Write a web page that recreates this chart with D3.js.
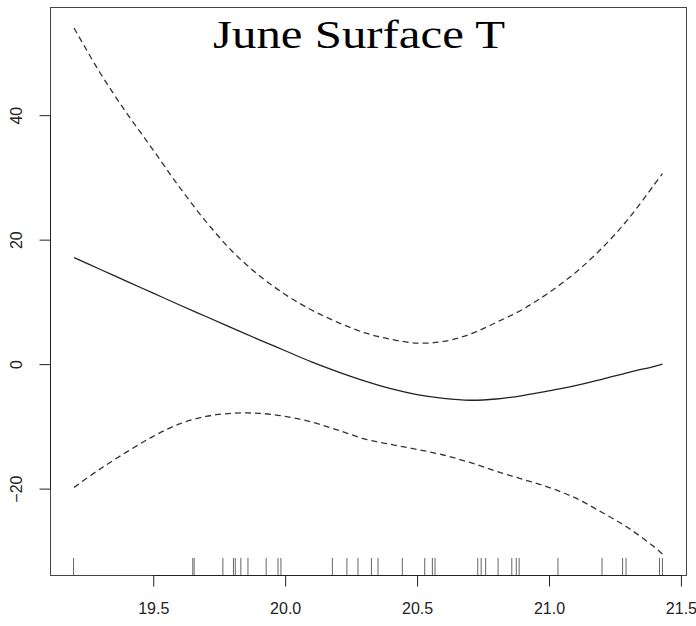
<!DOCTYPE html>
<html>
<head>
<meta charset="utf-8" />
<title>June Surface T</title>
<style>
html, body {
    margin: 0px;
    padding: 0px;
    background: #fff;
}
svg {
    display: block;
}
</style>
</head>
<body>
<svg id="chart" width="696" height="626"></svg>

<script src="https://d3js.org/d3.v7.min.js"></script>
<script>
// smooth term for June surface temperature, with its +/- 2 se band
var temps = [19.2, 19.3, 19.4, 19.5, 19.6, 19.7, 19.8, 19.9, 20.0, 20.1, 20.2, 20.3,
             20.4, 20.5, 20.6, 20.7, 20.8, 20.9, 21.0, 21.1, 21.2, 21.3, 21.4, 21.43]
var fit   = [17.1, 15.2, 13.3, 11.4, 9.5, 7.65, 5.8, 3.95, 2.15, 0.35, -1.25, -2.7,
             -3.95, -4.9, -5.5, -5.8, -5.6, -5.05, -4.3, -3.45, -2.45, -1.35, -0.35, 0.0]
var upper = [54.0, 46.7, 40.3, 34.4, 28.4, 22.9, 18.1, 14.3, 11.2, 8.7, 6.7, 5.05,
             4.0, 3.38, 3.64, 4.8, 6.7, 8.8, 11.5, 14.7, 18.6, 23.3, 28.9, 30.6]
var lower = [-19.8, -16.8, -14.1, -11.6, -9.6, -8.4, -7.9, -7.9, -8.4, -9.3, -10.6, -12.0,
             -12.9, -13.7, -14.6, -15.8, -17.2, -18.5, -19.8, -21.5, -23.8, -26.3, -29.4, -30.5]

// observed temperatures (rug)
var rugTemps = [19.198, 19.650, 19.655, 19.764, 19.804, 19.811, 19.832, 19.859, 19.928,
                19.973, 19.984, 20.179, 20.234, 20.276, 20.327, 20.352, 20.444, 20.529,
                20.558, 20.568, 20.730, 20.743, 20.760, 20.807, 20.859, 20.876, 20.887,
                21.034, 21.201, 21.279, 21.292, 21.419, 21.430]

var xTicks = [19.5, 20.0, 20.5, 21.0, 21.5]
var yTicks = [-20, 0, 20, 40]
var title = "June Surface T"

var svg = d3.select("#chart")
var box = {left: 50, right: 686, top: 7, bottom: 575}

// R style 4% padding around the data range
function padded(ext) {
    var d = (ext[1] - ext[0]) * 0.04
    return [ext[0] - d, ext[1] + d]
}

var xExt = d3.extent(rugTemps)
var yExt = [d3.min(lower), d3.max(upper)]

var x = d3.scaleLinear().domain(padded(xExt)).range([box.left, box.right])
var y = d3.scaleLinear().domain(padded(yExt)).range([box.bottom, box.top])

svg.append("rect")
    .attr("width", 696)
    .attr("height", 626)
    .attr("fill", "#fff")

// plot box
svg.append("rect")
    .attr("x", box.left + 0.5)
    .attr("y", box.top + 0.5)
    .attr("width", box.right - box.left)
    .attr("height", box.bottom - box.top)
    .attr("fill", "none")
    .attr("stroke", "#444")
    .attr("stroke-width", 1)

// x axis
var xAxis = svg.append("g")
    .attr("transform", "translate(0," + (box.bottom + 0.5) + ")")
    .call(d3.axisBottom(x).tickValues(xTicks).tickSize(11).tickPadding(16)
        .tickFormat(d3.format(".1f")))
xAxis.select(".domain").remove()
xAxis.append("line")
    .attr("x1", x(xTicks[0])).attr("x2", x(xTicks[xTicks.length - 1]))
    .attr("stroke", "#222")
xAxis.selectAll(".tick line").attr("stroke", "#222")
xAxis.selectAll("text")
    .attr("fill", "#222")
    .style("font-family", "'Liberation Sans', Arial, sans-serif")
    .style("font-size", "16px")

// y axis
var yAxis = svg.append("g")
    .attr("transform", "translate(" + (box.left + 0.5) + ",0)")
    .call(d3.axisLeft(y).tickValues(yTicks).tickSize(11).tickFormat(d3.format("d")))
yAxis.select(".domain").remove()
yAxis.append("line")
    .attr("y1", y(yTicks[0])).attr("y2", y(yTicks[yTicks.length - 1]))
    .attr("stroke", "#222")
yAxis.selectAll(".tick line").attr("stroke", "#222")
yAxis.selectAll("text")
    .attr("fill", "#222")
    .attr("x", null)
    .attr("text-anchor", "middle")
    .attr("transform", "translate(-34,0) rotate(-90)")
    .attr("dy", "0.35em")
    .style("font-family", "'Liberation Sans', Arial, sans-serif")
    .style("font-size", "16px")

// rug
svg.append("g").selectAll("line")
    .data(rugTemps)
    .enter().append("line")
    .attr("x1", function(d) { return x(d) })
    .attr("x2", function(d) { return x(d) })
    .attr("y1", box.bottom)
    .attr("y2", box.bottom - (box.bottom - box.top) * 0.03)
    .attr("stroke", "#666")
    .attr("stroke-width", 1)

// curves
var line = d3.line()
    .x(function(d) { return x(d[0]) })
    .y(function(d) { return y(d[1]) })
    .curve(d3.curveCatmullRom)

function series(vals) {
    return temps.map(function(t, i) { return [t, vals[i]] })
}

svg.append("path")
    .datum(series(upper))
    .attr("d", line)
    .attr("fill", "none")
    .attr("stroke", "#333")
    .attr("stroke-width", 1.3)
    .attr("stroke-dasharray", "6,4")

svg.append("path")
    .datum(series(lower))
    .attr("d", line)
    .attr("fill", "none")
    .attr("stroke", "#333")
    .attr("stroke-width", 1.3)
    .attr("stroke-dasharray", "6,4")

svg.append("path")
    .datum(series(fit))
    .attr("d", line)
    .attr("fill", "none")
    .attr("stroke", "#222")
    .attr("stroke-width", 1.3)

// title
svg.append("text")
    .attr("x", 359)
    .attr("y", 48)
    .attr("text-anchor", "middle")
    .attr("textLength", 292)
    .attr("lengthAdjust", "spacingAndGlyphs")
    .style("font-family", "'Liberation Serif', 'Times New Roman', serif")
    .style("font-size", "39px")
    .attr("fill", "#000")
    .text(title)
</script>
</body>
</html>
